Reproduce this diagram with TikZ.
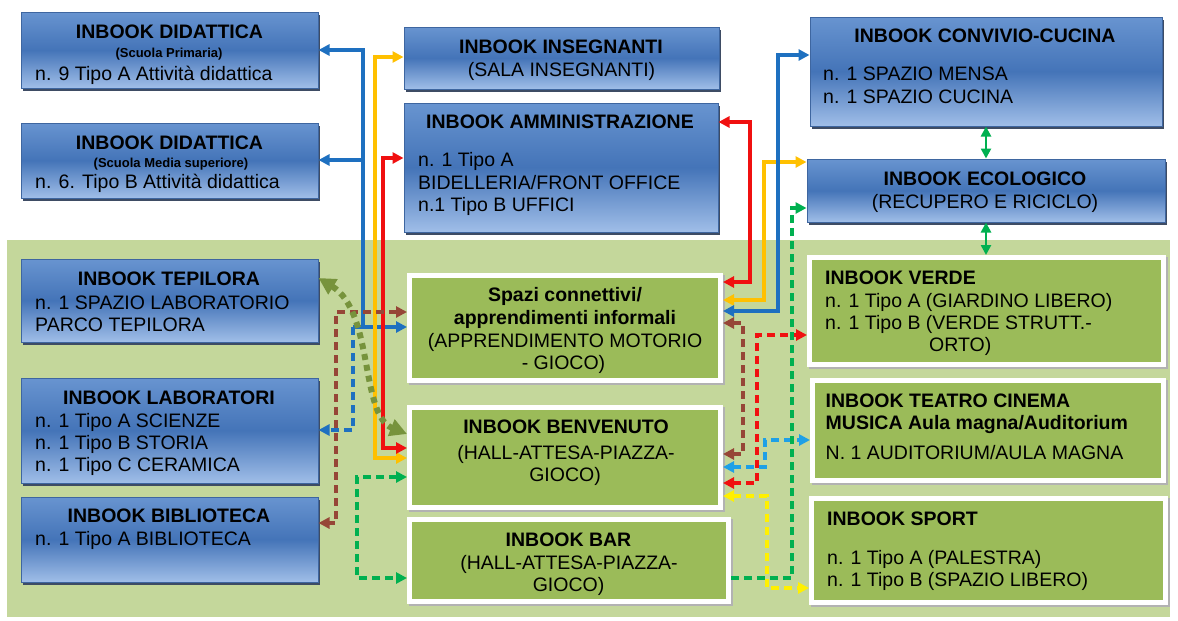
\documentclass[tikz,border=0pt]{standalone}
\usepackage{fontspec}
\setmainfont{Liberation Sans}
\usetikzlibrary{arrows.meta}
\definecolor{bggreen}{RGB}{196,215,155}
\definecolor{boxgreen}{RGB}{155,187,89}
\definecolor{bluetop}{RGB}{104,148,208}
\definecolor{bluemid}{RGB}{68,116,184}
\definecolor{bluebot}{RGB}{160,190,232}
\definecolor{blueedge}{RGB}{62,102,160}
\definecolor{blueshadow}{RGB}{62,76,100}
\definecolor{cblue}{RGB}{30,112,192}
\definecolor{cyellow}{RGB}{255,192,0}
\definecolor{cred}{RGB}{240,16,16}
\definecolor{cbrown}{RGB}{150,70,55}
\definecolor{ccyan}{RGB}{30,160,230}
\definecolor{cyell}{RGB}{255,240,0}
\definecolor{cgreen}{RGB}{0,176,80}
\definecolor{colive}{RGB}{119,147,60}
\begin{document}
\begin{tikzpicture}[x=1pt,y=-1pt,
  >={Triangle[length=11pt,width=11pt]},
  bluebox/.style={rectangle, inner sep=0pt, draw=blueedge, line width=1pt,
    top color=bluetop, bottom color=bluebot, middle color=bluemid,
    preaction={fill=blueshadow, transform canvas={shift={(2pt,-3pt)}}}},
  greenbox/.style={rectangle, inner sep=0pt, fill=boxgreen, draw=white, line width=5pt,
    preaction={draw=black!30, fill=black!30, line width=5pt, transform canvas={shift={(2pt,-2pt)}}}},
  tc/.style={font=\fontsize{19.5}{22}\selectfont\bfseries, inner sep=0pt, anchor=base},
  rc/.style={font=\fontsize{19.5}{22}\selectfont, inner sep=0pt, anchor=base},
  sc/.style={font=\fontsize{13}{15}\selectfont\bfseries, inner sep=0pt, anchor=base},
  tl/.style={font=\fontsize{19.5}{22}\selectfont, inner sep=0pt, anchor=base west},
  tlb/.style={font=\fontsize{19.5}{22}\selectfont\bfseries, inner sep=0pt, anchor=base west},
  conn/.style={line width=3.5pt},
  dsh/.style={dash pattern=on 8pt off 5pt},
  cbl/.style={conn, draw=cblue},
  cye/.style={conn, draw=cyellow},
  crd/.style={conn, draw=cred},
  cbr/.style={conn, draw=cbrown},
  ccy/.style={conn, draw=ccyan},
  cy2/.style={conn, draw=cyell},
  cgr/.style={conn, draw=cgreen},
  cgs/.style={line width=2.5pt, draw=cgreen, {Triangle[length=10pt,width=10pt]}-{Triangle[length=10pt,width=10pt]}},
]
\useasboundingbox (0,0) rectangle (1178,621);
\fill[white] (0,0) rectangle (1178,621);
\fill[bggreen] (7,240) rectangle (1170,617);

% blue boxes
\node[bluebox, minimum width=297, minimum height=76] (did1) at (169.5,50) {};
\node[bluebox, minimum width=297, minimum height=75] (did2) at (169.5,160.5) {};
\node[bluebox, minimum width=297, minimum height=83] (tep) at (169.5,300.5) {};
\node[bluebox, minimum width=297, minimum height=105] (lab) at (169.5,430.5) {};
\node[bluebox, minimum width=297, minimum height=85] (bib) at (169.5,539.5) {};
\node[bluebox, minimum width=315, minimum height=62] (ins) at (561.5,58) {};
\node[bluebox, minimum width=314, minimum height=129] (amm) at (561,167.5) {};
\node[bluebox, minimum width=352, minimum height=109] (conv) at (986,71.5) {};
\node[bluebox, minimum width=358, minimum height=63] (eco) at (986,190.5) {};

% green boxes
\node[greenbox, minimum width=311, minimum height=105] (spazi) at (565,328) {};
\node[greenbox, minimum width=311, minimum height=100] (benv) at (565,457.5) {};
\node[greenbox, minimum width=319, minimum height=82] (bar) at (569,560.5) {};
\node[greenbox, minimum width=354, minimum height=107] (verde) at (986.5,311) {};
\node[greenbox, minimum width=351, minimum height=100] (teatro) at (988,430.5) {};
\node[greenbox, minimum width=354, minimum height=104] (sport) at (988.5,550.5) {};

% texts
\node[tc] (t1a) at (169.5,38.5) {INBOOK DIDATTICA};
\node[sc] (t1b) at (169,57.5) {(Scuola Primaria)};
\node[tl] (t1c) at (35,80) {n. 9 Tipo A Attività didattica};
\node[tc] (t2a) at (169.5,149) {INBOOK DIDATTICA};
\node[sc] (t2b) at (171,167) {(Scuola Media superiore)};
\node[tl] (t2c) at (35,188) {n. 6. Tipo B Attività didattica};
\node[tc] (t3a) at (169,285) {INBOOK TEPILORA};
\node[tl] (t3b) at (35,309) {n. 1 SPAZIO LABORATORIO};
\node[tl] (t3c) at (35,331) {PARCO TEPILORA};
\node[tc] (t4a) at (169,404) {INBOOK LABORATORI};
\node[tl] (t4b) at (35,427) {n. 1 Tipo A SCIENZE};
\node[tl] (t4c) at (35,449) {n. 1 Tipo B STORIA};
\node[tl] (t4d) at (35,471.5) {n. 1 Tipo C CERAMICA};
\node[tc] (t5a) at (169,522) {INBOOK BIBLIOTECA};
\node[tl] (t5b) at (35,545) {n. 1 Tipo A BIBLIOTECA};
\node[tc] (t6a) at (561,53.5) {INBOOK INSEGNANTI};
\node[rc] (t6b) at (561.5,76.5) {(SALA INSEGNANTI)};
\node[tc] (t7a) at (560,128.5) {INBOOK AMMINISTRAZIONE};
\node[tl] (t7b) at (418,166.5) {n. 1 Tipo A};
\node[tl] (t7c) at (418,189) {BIDELLERIA/FRONT OFFICE};
\node[tl] (t7d) at (418,211) {n.1 Tipo B UFFICI};
\node[tc] (t8a) at (985,42.5) {INBOOK CONVIVIO-CUCINA};
\node[tl] (t8b) at (823,80.5) {n. 1 SPAZIO MENSA};
\node[tl] (t8c) at (823,103) {n. 1 SPAZIO CUCINA};
\node[tc] (t9a) at (985,185) {INBOOK ECOLOGICO};
\node[rc] (t9b) at (985,208) {(RECUPERO E RICICLO)};
\node[tc] (t10a) at (565,301.5) {Spazi connettivi/};
\node[tc] (t10b) at (565,324) {apprendimenti informali};
\node[rc] (t10c) at (565,347) {(APPRENDIMENTO MOTORIO};
\node[rc] (t10d) at (563.5,369.5) {- GIOCO)};
\node[tc] (t11a) at (566,433.5) {INBOOK BENVENUTO};
\node[rc] (t11b) at (566,459) {(HALL-ATTESA-PIAZZA-};
\node[rc] (t11c) at (565,481) {GIOCO)};
\node[tc] (t12a) at (568.5,546) {INBOOK BAR};
\node[rc] (t12b) at (569,569) {(HALL-ATTESA-PIAZZA-};
\node[rc] (t12c) at (568.5,591) {GIOCO)};
\node[tlb] (t13a) at (825,284) {INBOOK VERDE};
\node[tl] (t13b) at (825,307) {n. 1 Tipo A (GIARDINO LIBERO)};
\node[tl] (t13c) at (825,329.5) {n. 1 Tipo B (VERDE STRUTT.-};
\node[tl] (t13d) at (929,351.5) {ORTO)};
\node[tlb] (t14a) at (825.5,407.5) {INBOOK TEATRO CINEMA};
\node[tlb] (t14b) at (825.5,429) {MUSICA Aula magna/Auditorium};
\node[tl] (t14c) at (825.5,459.5) {N. 1 AUDITORIUM/AULA MAGNA};
\node[tlb] (t15a) at (827,525) {INBOOK SPORT};
\node[tl] (t15b) at (827,564) {n. 1 Tipo A (PALESTRA)};
\node[tl] (t15c) at (827,586) {n. 1 Tipo B (SPAZIO LIBERO)};

% connector corners
\coordinate (bj) at (363,327);
\coordinate (bk) at (353,327);
\coordinate (bm) at (363,160);
\coordinate (yl) at (375,57);
\coordinate (rl) at (383,158);
\coordinate (rr) at (750,122);
\coordinate (yr) at (764,162);
\coordinate (br) at (778,55);
\coordinate (nl) at (336,523);
\coordinate (nr) at (743,454);
\coordinate (cr) at (765,440);
\coordinate (rd) at (757,335);
\coordinate (yd) at (767,588);
\coordinate (gr) at (792,208);
\coordinate (gl) at (357,578);

% left connectors
\draw[cbl,->] (bk) -- (spazi.west |- bk);
\draw[cbl,->] (bj) |- (did1.east |- 0,50);
\draw[cbl,->] (bm) -- (did2.east |- bm);
\draw[cbl,dsh,->] (bk) |- (lab.east |- 0,430);
\draw[cye,<->] (benv.west |- 0,458) -| (yl) -- (ins.west |- yl);
\draw[crd,<->] (benv.west |- 0,448) -| (rl) -- (amm.west |- rl);
\draw[cbr,dsh,<->] (spazi.west |- 0,312) -| (nl) -- (bib.east |- nl);
\draw[cgr,dsh,<->] (benv.west |- 0,477) -| (gl) -- (bar.west |- gl);

% right connectors
\draw[crd,<->] (amm.east |- rr) -- (rr) |- (spazi.east |- 0,282);
\draw[cye,<->] (spazi.east |- 0,300) -| (yr) -- (eco.west |- yr);
\draw[cbl,<->] (spazi.east |- 0,311) -| (br) -- (conv.west |- br);
\draw[cbr,dsh,<->] (spazi.east |- 0,323) -| (nr) -- (benv.east |- nr);
\draw[ccy,dsh,<->] (benv.east |- 0,467) -| (cr) -- (teatro.west |- cr);
\draw[crd,dsh,<->] (benv.east |- 0,483) -| (rd) -- (verde.west |- rd);
\draw[cy2,dsh,<->] (benv.east |- 0,496) -| (yd) -- (sport.west |- yd);
\draw[cgr,dsh,->] (bar.east |- 0,578) -| (gr) -- (eco.west |- gr);

\draw[cgs] (conv.south) -- (eco.north -| conv.south);
\draw[cgs] (eco.south -| conv.south) -- (verde.north -| conv.south);

% olive dotted curve
\draw[colive, line width=6pt, dash pattern=on 6pt off 5pt,
  {Triangle[length=17pt,width=17pt]}-{Triangle[length=17pt,width=17pt]}]
  (tep.east |- 0,278) .. controls (374,312) and (360,415) .. (benv.west |- 0,434);
\end{tikzpicture}
\end{document}
